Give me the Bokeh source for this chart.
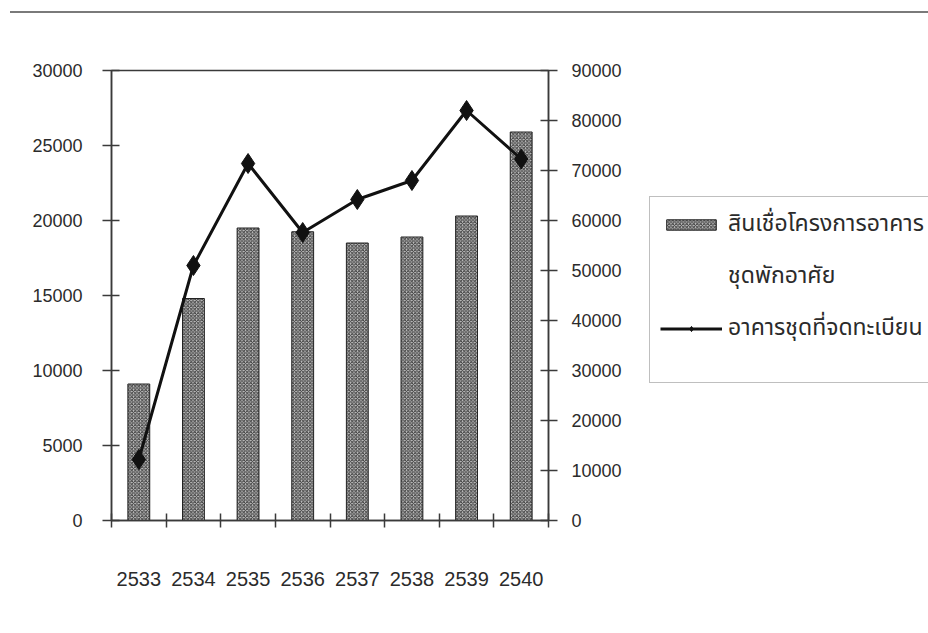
from bokeh.plotting import figure
from bokeh.models import (Range1d, LinearAxis, FixedTicker, Legend, LegendItem, Div)
from bokeh.layouts import column
from bokeh.embed import file_html
from bokeh.resources import INLINE

# Buddhist-era years
years = ["2533", "2534", "2535", "2536", "2537", "2538", "2539", "2540"]
# Housing-project loans (left axis)
loans = [9100, 14800, 19500, 19250, 18500, 18900, 20300, 25900]
# Registered condominium units (right axis)
condos = [12200, 51000, 71400, 57600, 64200, 68000, 82000, 72300]

left_ticks = [0, 5000, 10000, 15000, 20000, 25000, 30000]
right_ticks = [0, 10000, 20000, 30000, 40000, 50000, 60000, 70000, 80000, 90000]

label_bar_1 = "สินเชื่อโครงการอาคาร"
label_bar_2 = "ชุดพักอาศัย"
label_line = "อาคารชุดที่จดทะเบียน"

TICK_FONT = "Liberation Sans"
THAI_FONT = "Noto Sans Thai, Noto Sans, Loma, Garuda, sans-serif"
AXIS_COLOR = "#3a3a3a"
TEXT_COLOR = "#2b2b2b"

# each year occupies one unit slot; marks sit in the middle of the slot
n = len(years)
slot_centers = [i + 0.5 for i in range(n)]
slot_edges = list(range(n + 1))

p = figure(frame_width=437, frame_height=450, output_backend="svg", toolbar_location=None,
           x_range=Range1d(0, n), y_range=Range1d(0, 30000),
           x_axis_location=None, y_axis_location=None,
           min_border_left=111, min_border_right=380, min_border_top=57,
           min_border_bottom=111)
p.background_fill_color = "white"
p.border_fill_color = "white"
p.grid.visible = False
p.outline_line_color = AXIS_COLOR
p.outline_line_width = 1.5

p.extra_y_ranges = {"right": Range1d(0, 90000)}

# bars (left scale)
bars = p.vbar(x=slot_centers, top=loans, width=0.4, fill_color="#c4c4c4",
              hatch_pattern="x", hatch_color="#3a3a3a", hatch_scale=3.5,
              hatch_weight=1.0, line_color="#222222", line_width=1)

# line with diamond markers (right scale)
ln = p.line(x=slot_centers, y=condos, y_range_name="right", line_color="#111111", line_width=3)
mk = p.scatter(x=slot_centers, y=condos, y_range_name="right", marker="diamond", size=20,
               fill_color="#111111", line_color="#111111")

# placeholder renderer for the second legend line
blank = p.scatter(x=[slot_centers[0]], y=[0], marker="square", size=1,
                  fill_alpha=0, line_alpha=0)


def style_axis(ax, size="18px"):
    ax.axis_line_color = AXIS_COLOR
    ax.axis_line_width = 1.5
    ax.major_tick_line_color = AXIS_COLOR
    ax.major_tick_line_width = 1.5
    ax.minor_tick_line_color = None
    ax.major_label_text_font = TICK_FONT
    ax.major_label_text_font_size = size
    ax.major_label_text_color = TEXT_COLOR


yl = LinearAxis(ticker=FixedTicker(ticks=left_ticks), major_tick_in=8, major_tick_out=9,
                major_label_standoff=20)
style_axis(yl)
p.add_layout(yl, "left")

yr = LinearAxis(y_range_name="right", ticker=FixedTicker(ticks=right_ticks),
                major_tick_in=8, major_tick_out=9, major_label_standoff=14)
style_axis(yr)
p.add_layout(yr, "right")

# slot boundary ticks
xe = LinearAxis(ticker=FixedTicker(ticks=slot_edges), major_tick_in=7, major_tick_out=7,
                major_label_standoff=0)
style_axis(xe, "0px")
xe.major_label_overrides = {e: "" for e in slot_edges}
p.add_layout(xe, "below")

# year labels
xc = LinearAxis(ticker=FixedTicker(ticks=slot_centers), major_label_standoff=38,
                major_label_overrides=dict(zip(slot_centers, years)))
style_axis(xc, "20px")
xc.axis_line_color = None
xc.major_tick_line_color = None
p.add_layout(xc, "below")

legend = Legend(items=[
    LegendItem(label=label_bar_1, renderers=[bars]),
    LegendItem(label=label_bar_2, renderers=[blank]),
    LegendItem(label=label_line, renderers=[ln, mk]),
], location=(-194, 137))
legend.glyph_width = 62
legend.glyph_height = 13
legend.label_standoff = 6
legend.label_height = 28
legend.spacing = 18
legend.padding = 10
legend.margin = 0
legend.label_text_font = THAI_FONT
legend.label_text_font_size = "23px"
legend.label_text_color = TEXT_COLOR
legend.border_line_color = "#808080"
legend.border_line_width = 1.5
legend.background_fill_color = "white"
# blank footer keeps empty room under the last entry
legend.title = " "
legend.title_location = "below"
legend.title_text_font_size = "20px"
legend.title_standoff = 4
p.add_layout(legend, "right")

# page rule across the top
rule = Div(text="", width=918, height=13, margin=(0, 0, 0, 10),
           styles={"border-bottom": "2px solid #7a7a7a"})

open("out.html", "w").write(file_html(column(rule, p, spacing=0), INLINE))
